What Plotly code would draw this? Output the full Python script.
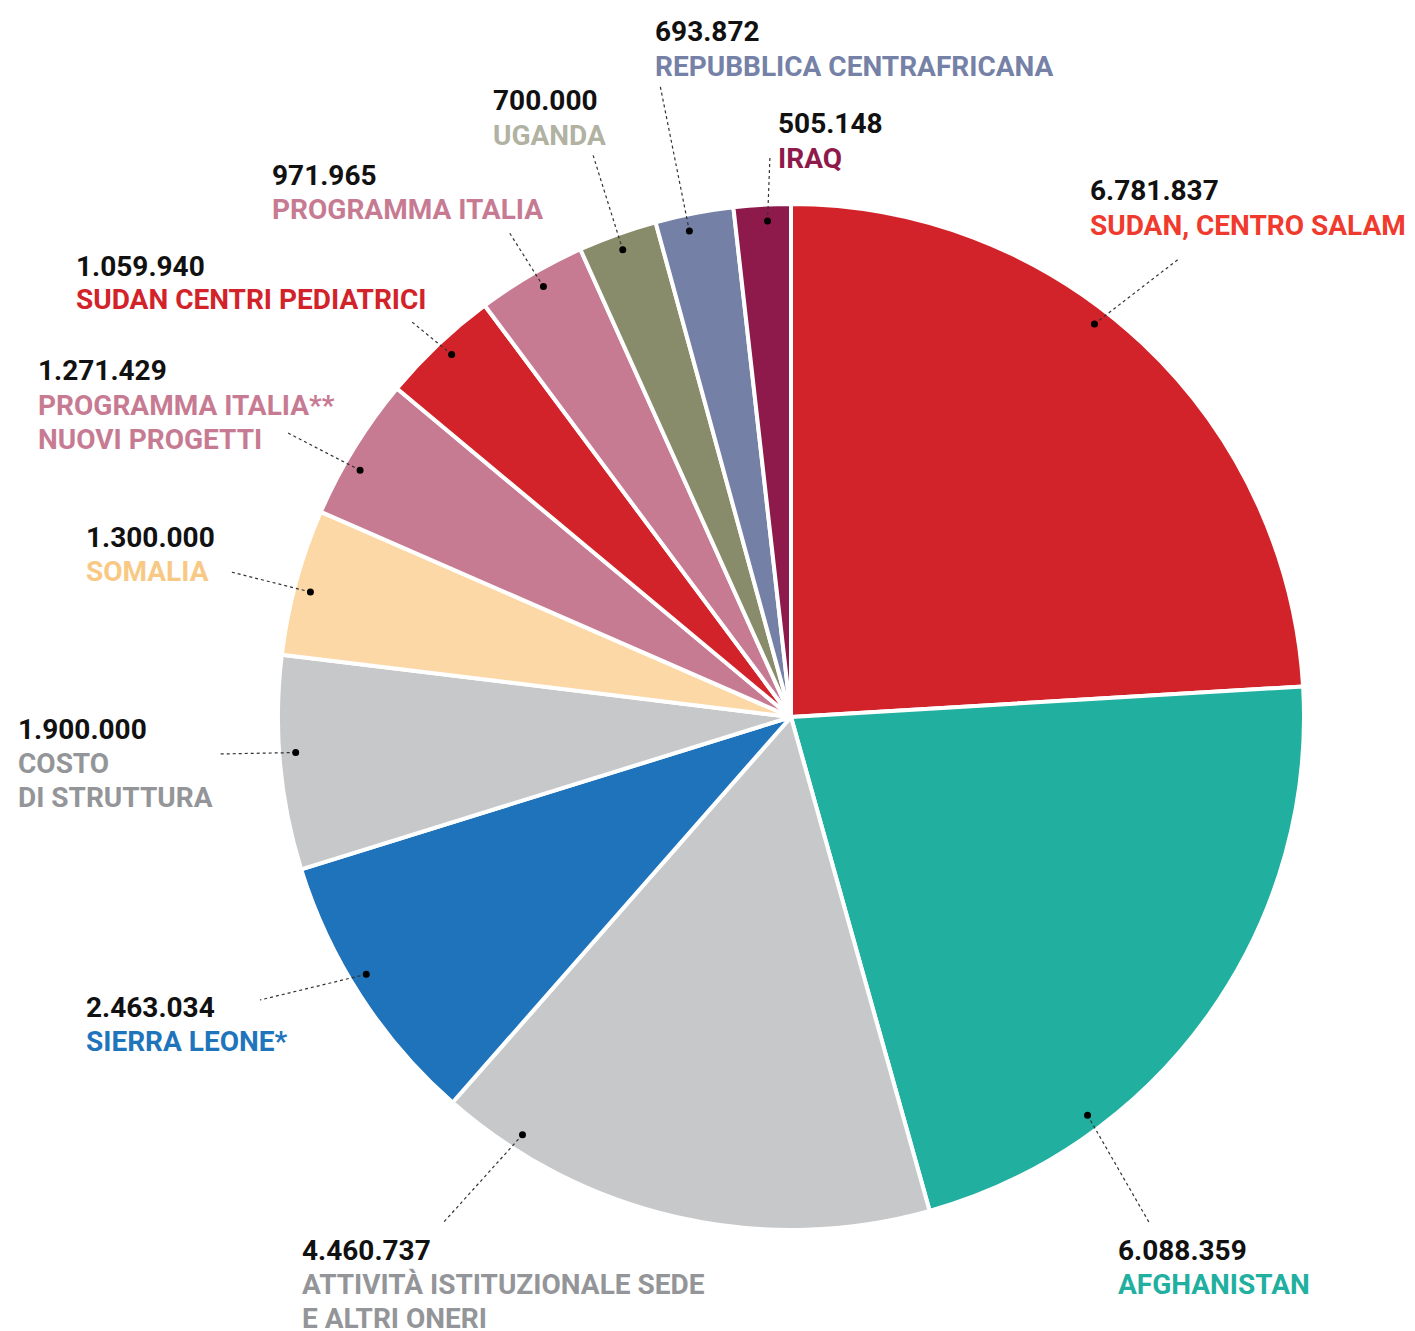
import math
import plotly.graph_objects as go

W, H = 1415, 1331

# ---- data ----
names = [
    "SUDAN, CENTRO SALAM",
    "AFGHANISTAN",
    "ATTIVITÀ ISTITUZIONALE SEDE\nE ALTRI ONERI",
    "SIERRA LEONE*",
    "COSTO\nDI STRUTTURA",
    "SOMALIA",
    "PROGRAMMA ITALIA**\nNUOVI PROGETTI",
    "SUDAN CENTRI PEDIATRICI",
    "PROGRAMMA ITALIA",
    "UGANDA",
    "REPUBBLICA CENTRAFRICANA",
    "IRAQ",
]
values = [6781837, 6088359, 4460737, 2463034, 1900000, 1300000,
          1271429, 1059940, 971965, 700000, 693872, 505148]

# ---- styles ----
slice_colors = ["#D2232A", "#21B09F", "#C7C8CA", "#1F73BA", "#C7C8CA", "#FDD8A7",
                "#C77B92", "#D2232A", "#C77B92", "#898C6A", "#7480A6", "#8E1A4B"]
text_colors = ["#EF3A2D", "#21B09F", "#939598", "#1F75BC", "#939598", "#F8C985",
               "#C77B93", "#D2232A", "#C77B93", "#B1B2A2", "#7581A6", "#8E1A4B"]

# ---- layout (pixel positions of labels and leader-line ends) ----
label_x = [1088, 1116, 300, 84, 16, 84, 36, 74, 270, 491, 653, 776]
label_y = [191, 1250, 1250, 1007, 729, 537, 371, 266, 175, 101, 32, 124]
lead_x = [1180, 1150, 443, 260, 218, 231, 286, 412, 509, 593, 660, 770]
lead_y = [258, 1224, 1223, 1000, 754, 572, 432, 322, 232, 155, 85, 155]
anchor_frac = [0.435, 0.73, 0.85, 0.557, 0.543, 0.458, 0.383, 0.523, 0.544, 0.497, 0.395, 0.58]
LINE_GAP = 34
FONT = "Roboto"
FSIZE = 28

CX, CY, R = 791, 717, 513

fig = go.Figure()
fig.add_trace(go.Pie(
    values=values,
    labels=[n.replace("\n", " ") for n in names],
    sort=False,
    direction="clockwise",
    rotation=0,
    textinfo="none",
    hoverinfo="label+value",
    marker=dict(colors=slice_colors, line=dict(color="white", width=4)),
    domain=dict(x=[(CX - R) / W, (CX + R) / W], y=[(H - CY - R) / H, (H - CY + R) / H]),
    showlegend=False,
))

def px(x):
    return x / W

def py(y):
    return 1 - y / H

total = sum(values)
cum = 0.0
shapes = []
annotations = []
for i, v in enumerate(values):
    a0 = cum / total * 360
    a1 = (cum + v) / total * 360
    cum += v
    ang = math.radians(a0 + anchor_frac[i] * (a1 - a0))
    dx = CX + 0.968 * R * math.sin(ang)
    dy = CY - 0.968 * R * math.cos(ang)
    shapes.append(dict(type="line", xref="paper", yref="paper",
                       x0=px(dx), y0=py(dy), x1=px(lead_x[i]), y1=py(lead_y[i]),
                       line=dict(color="#333333", width=1.2, dash="dot"), layer="above"))
    shapes.append(dict(type="circle", xref="paper", yref="paper",
                       x0=px(dx - 3.5), x1=px(dx + 3.5), y0=py(dy - 3.5), y1=py(dy + 3.5),
                       fillcolor="black", line=dict(width=0), layer="above"))
    num = f"{v:,}".replace(",", ".")
    lines = [(num, "#111111")] + [(t, text_colors[i]) for t in names[i].split("\n")]
    for k, (t, c) in enumerate(lines):
        annotations.append(dict(
            text=t, xref="paper", yref="paper",
            x=px(label_x[i]), y=py(label_y[i] + k * LINE_GAP),
            xanchor="left", yanchor="middle", showarrow=False,
            font=dict(family=FONT, size=FSIZE, color=c, weight="bold"),
        ))

fig.update_layout(
    width=W, height=H,
    margin=dict(l=0, r=0, t=0, b=0),
    paper_bgcolor="white",
    plot_bgcolor="white",
    shapes=shapes,
    annotations=annotations,
)

fig.write_html("out.html")
